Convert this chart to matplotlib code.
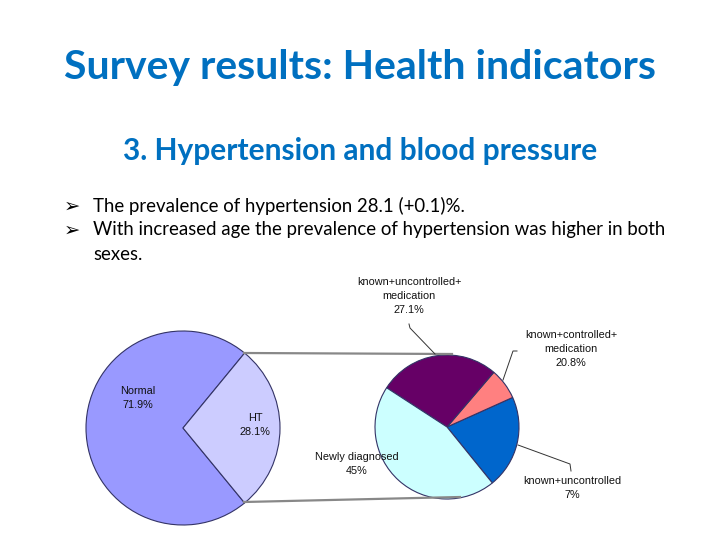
import matplotlib.pyplot as plt

# data
main_labels = ["Normal\n71.9%", "HT\n28.1%"]
main_values = [71.9, 28.1]
main_colors = ["#9999FF", "#CCCCFF"]

# HT breakdown, counterclockwise starting from lower right
sub_names = ["known+uncontrolled", "known+controlled+\nmedication",
             "known+uncontrolled+\nmedication", "Newly diagnosed"]
sub_values = [20.9, 7.0, 27.1, 45.0]
sub_colors = ["#0066CC", "#FF8080", "#660066", "#CCFFFF"]
sub_texts = ["known+uncontrolled+\nmedication\n27.1%",
             "known+controlled+\nmedication\n20.8%",
             "Newly diagnosed\n45%",
             "known+uncontrolled\n7%"]

bullet_lines = ["The prevalence of hypertension 28.1 (+0.1)%.",
                "With increased age the prevalence of hypertension was higher in both",
                "sexes."]


def py(y):
    # pixel row -> data y
    return 540 - y


fig = plt.figure(figsize=(7.2, 5.4), dpi=100)
ax = fig.add_axes([0, 0, 1, 1])

# main pie
ht_half = main_values[1] * 3.6 / 2
ax.pie(main_values, colors=main_colors, startangle=ht_half, center=(183, py(428)), radius=97,
       wedgeprops=dict(edgecolor="#333366", linewidth=0.8), frame=True)

# breakdown pie
ax.pie(sub_values, colors=sub_colors, startangle=-51, center=(447, py(427)), radius=72,
       wedgeprops=dict(edgecolor="#333366", linewidth=0.8), frame=True)
ax.set_xlim(0, 720)
ax.set_ylim(0, 540)
ax.set_aspect("equal")
ax.axis("off")

# title + subtitle
ax.text(360, py(68), "Survey results: Health indicators", ha="center", va="center",
        fontsize=29.5, color="#0070C0", fontweight="bold", family=["Lato", "DejaVu Sans"])
ax.text(360, py(151), "3. Hypertension and blood pressure", ha="center", va="center",
        fontsize=21.5, color="#0070C0", fontweight="bold", family=["Lato", "DejaVu Sans"])

# bullets
for yy in [206, 230]:
    ax.text(64, py(yy), "\u27a2", ha="left", va="center", fontsize=14, family=["DejaVu Sans"])
for yy, line in zip([206, 230, 254], bullet_lines):
    ax.text(93, py(yy), line, ha="left", va="center", fontsize=13.4,
            family=["Lato", "DejaVu Sans"])

# connector lines
ax.plot([244, 452], [py(353), py(354)], color="#888888", lw=1.6)
ax.plot([244, 460], [py(502), py(497)], color="#888888", lw=1.6)

lab = dict(ha="center", va="center", fontsize=7.8, family=["Liberation Sans", "DejaVu Sans"],
           linespacing=1.45, color="#111111")
ax.text(138, py(398), main_labels[0], **lab)
ax.text(255, py(425), main_labels[1], **lab)

ax.text(409, py(296), sub_texts[0], **lab)
ax.text(571, py(349), sub_texts[1], **lab)
ax.text(357, py(464), sub_texts[2], **lab)
ax.text(572, py(488), sub_texts[3], **lab)

# leader lines
ax.plot([409, 410, 435], [py(324), py(328), py(354)], color="#333333", lw=0.7)
ax.plot([517, 513, 503], [py(351), py(351), py(380)], color="#333333", lw=0.7)
ax.plot([518, 570, 571], [py(445), py(464), py(471)], color="#333333", lw=0.7)

fig.savefig("out.png", dpi=100)
